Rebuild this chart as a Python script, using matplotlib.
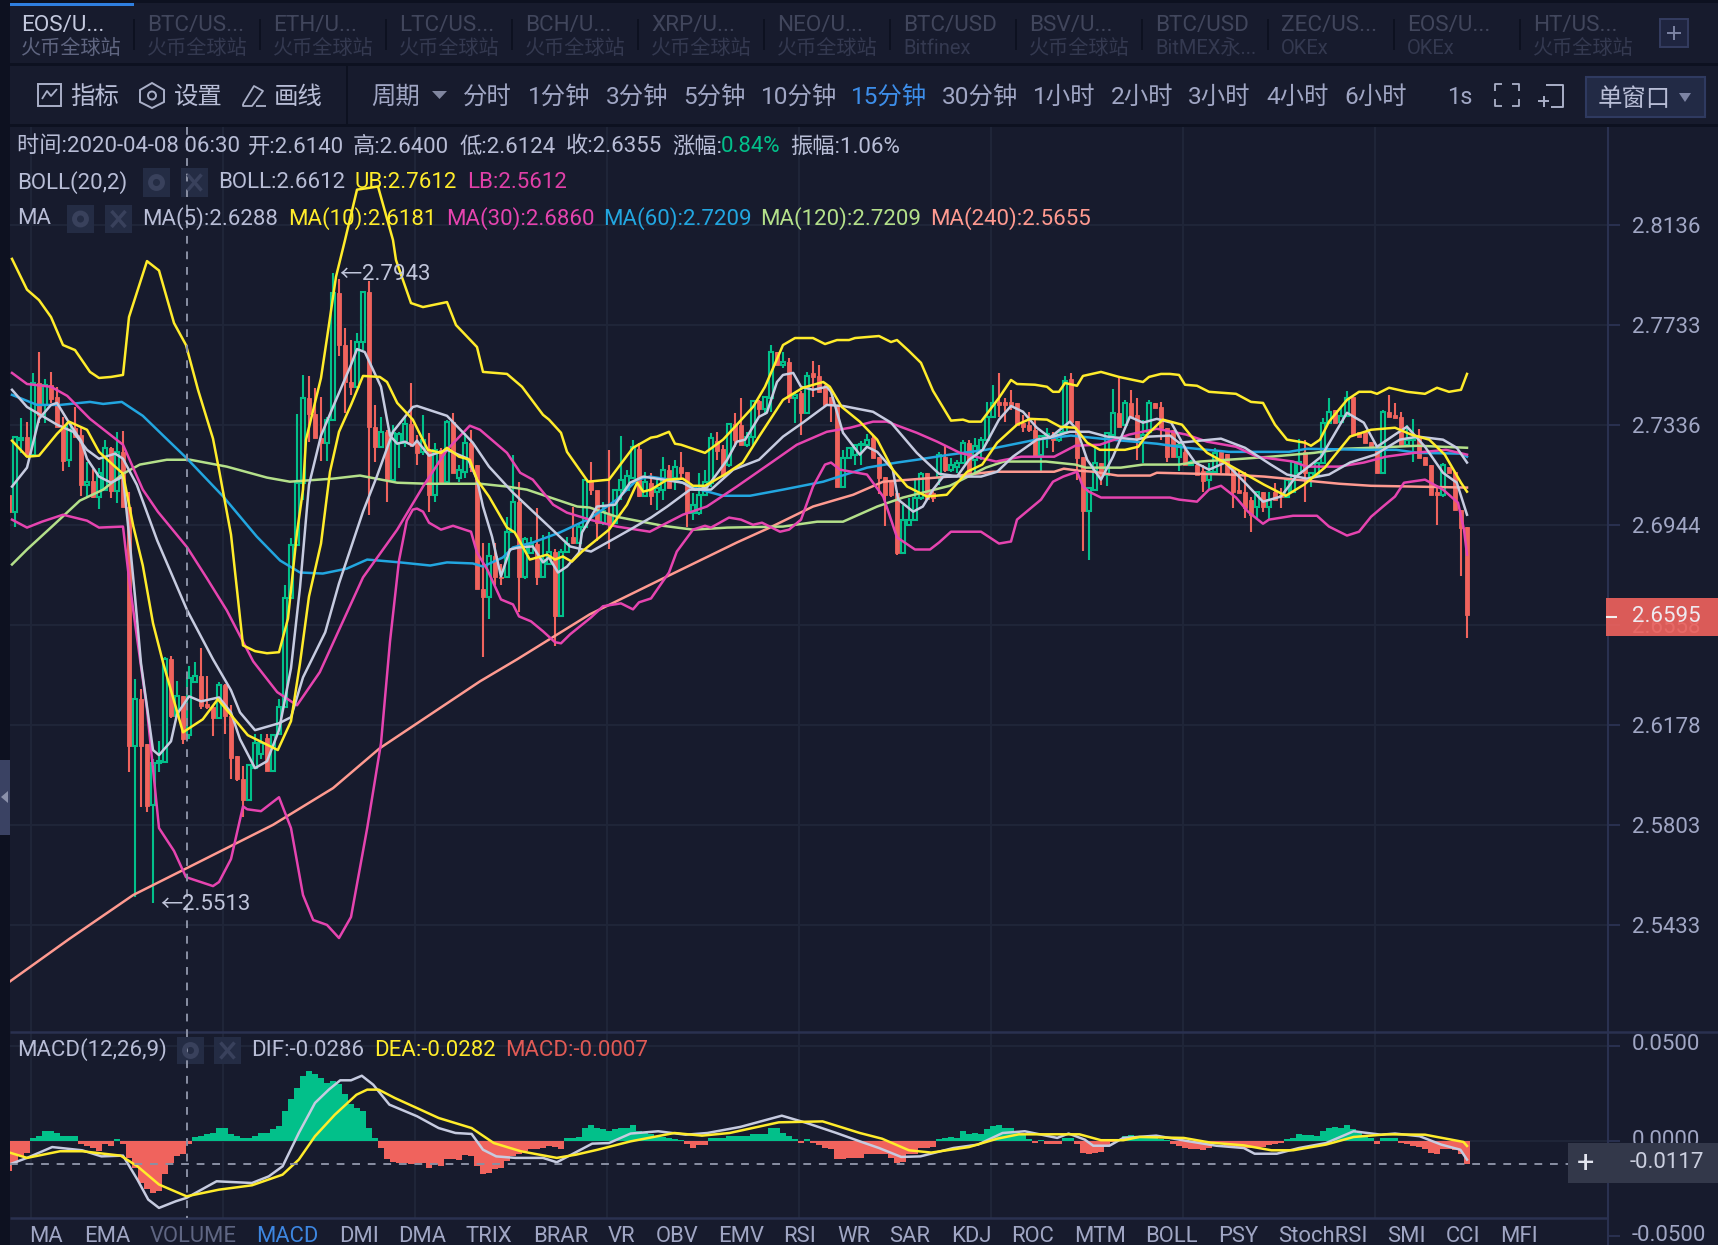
import matplotlib
matplotlib.use("Agg")
import matplotlib.pyplot as plt
from matplotlib.patches import Rectangle, Polygon, Circle
from matplotlib.transforms import ScaledTranslation
import numpy as np

plt.rcParams['font.family'] = ['Roboto', 'Noto Sans CJK SC', 'DejaVu Sans']

# ---------- candles (price) ----------
opens = [2.7062,2.6996,2.7278,2.7290,2.7219,2.7502,2.7415,2.7495,2.7447,2.7337,
2.7199,2.7325,2.7298,2.7101,2.7117,2.7055,2.7082,2.7246,2.7078,2.7230,
2.7016,2.6097,2.6275,2.6105,2.5876,2.6034,2.6038,2.6427,2.6210,2.6286,
2.6140,2.6340,2.6362,2.6256,2.6245,2.6203,2.6328,2.6210,2.6060,2.5974,
2.5895,2.6015,2.6068,2.6128,2.6004,2.6143,2.6245,2.6660,2.6865,2.7109,
2.7443,2.7380,2.7286,2.7266,2.7357,2.7861,2.7653,2.7506,2.7487,2.7665,
2.7865,2.7329,2.7250,2.7309,2.7121,2.7266,2.7266,2.7341,2.7266,2.7230,
2.7238,2.7062,2.7238,2.7113,2.7349,2.7129,2.7152,2.7266,2.7180,2.6695,
2.6664,2.6822,2.6741,2.6741,2.6918,2.7035,2.6741,2.6837,2.6869,2.6741,
2.6791,2.6841,2.6591,2.6841,2.6896,2.6876,2.6938,2.7121,2.7082,2.6953,
2.6984,2.6953,2.7082,2.7082,2.7129,2.7242,2.7058,2.7109,2.7074,2.7082,
2.7160,2.7129,2.7172,2.7152,2.6992,2.6992,2.7062,2.7109,2.7274,2.7242,
2.7180,2.7341,2.7337,2.7258,2.7290,2.7431,2.7400,2.7443,2.7625,2.7574,
2.7586,2.7443,2.7463,2.7384,2.7542,2.7530,2.7487,2.7447,2.7415,2.7094,
2.7207,2.7219,2.7258,2.7258,2.7286,2.7211,2.7133,2.7113,2.7070,2.6837,
2.6945,2.6965,2.7051,2.7148,2.7070,2.7133,2.7211,2.7160,2.7172,2.7188,
2.7266,2.7199,2.7238,2.7278,2.7368,2.7427,2.7427,2.7427,2.7423,2.7345,
2.7337,2.7317,2.7219,2.7286,2.7294,2.7278,2.7309,2.7518,2.7353,2.7211,
2.7000,2.7082,2.7188,2.7141,2.7298,2.7384,2.7337,2.7423,2.7376,2.7286,
2.7309,2.7423,2.7407,2.7325,2.7317,2.7211,2.7230,2.7180,2.7180,2.7156,
2.7121,2.7152,2.7230,2.7223,2.7168,2.7082,2.7074,2.7043,2.7016,2.7074,
2.7016,2.7074,2.7062,2.7055,2.7074,2.7148,2.7230,2.7133,2.7141,2.7188,
2.7345,2.7396,2.7349,2.7372,2.7447,2.7309,2.7309,2.7270,2.7250,2.7148,
2.7388,2.7376,2.7368,2.7258,2.7278,2.7286,2.7211,2.7180,2.7074,2.7062,
2.7172,2.7152,2.7004,2.6938]
closes = [2.6996,2.7290,2.7286,2.7215,2.7502,2.7376,2.7495,2.7439,2.7329,2.7195,
2.7345,2.7290,2.7101,2.7113,2.7055,2.7148,2.7246,2.7078,2.7230,2.7016,
2.6097,2.6275,2.6097,2.5872,2.6034,2.6041,2.6427,2.6210,2.6286,2.6124,
2.6355,2.6362,2.6248,2.6245,2.6203,2.6328,2.6210,2.6052,2.5974,2.5895,
2.6026,2.6109,2.6109,2.6004,2.6139,2.6245,2.6660,2.6865,2.7109,2.7443,
2.7380,2.7286,2.7266,2.7357,2.7861,2.7653,2.7506,2.7487,2.7665,2.7865,
2.7329,2.7250,2.7309,2.7121,2.7305,2.7302,2.7341,2.7266,2.7226,2.7278,
2.7062,2.7238,2.7109,2.7349,2.7148,2.7160,2.7266,2.7172,2.6695,2.6664,
2.6822,2.6741,2.6737,2.6918,2.7035,2.6741,2.6888,2.6869,2.6741,2.6810,
2.6841,2.6591,2.6841,2.6869,2.6876,2.6938,2.7121,2.7082,2.6953,2.7000,
2.6953,2.7082,2.7121,2.7137,2.7250,2.7058,2.7113,2.7058,2.7090,2.7160,
2.7090,2.7172,2.7148,2.6992,2.7023,2.7062,2.7113,2.7286,2.7234,2.7141,
2.7341,2.7278,2.7258,2.7290,2.7431,2.7400,2.7447,2.7625,2.7574,2.7586,
2.7443,2.7455,2.7384,2.7530,2.7526,2.7467,2.7415,2.7415,2.7094,2.7207,
2.7246,2.7258,2.7262,2.7278,2.7207,2.7129,2.7062,2.7062,2.6837,2.6965,
2.6965,2.7051,2.7144,2.7047,2.7051,2.7219,2.7160,2.7180,2.7188,2.7266,
2.7148,2.7254,2.7278,2.7368,2.7423,2.7415,2.7415,2.7415,2.7337,2.7329,
2.7317,2.7215,2.7294,2.7302,2.7278,2.7309,2.7510,2.7349,2.7207,2.7000,
2.7090,2.7188,2.7141,2.7305,2.7384,2.7329,2.7423,2.7368,2.7286,2.7298,
2.7423,2.7403,2.7325,2.7211,2.7211,2.7258,2.7180,2.7192,2.7141,2.7117,
2.7152,2.7226,2.7188,2.7148,2.7074,2.7070,2.7012,2.6984,2.7074,2.7016,
2.7043,2.7043,2.7055,2.7121,2.7192,2.7192,2.7148,2.7148,2.7188,2.7345,
2.7388,2.7345,2.7372,2.7443,2.7298,2.7290,2.7266,2.7250,2.7148,2.7388,
2.7368,2.7364,2.7258,2.7278,2.7286,2.7207,2.7180,2.7062,2.7062,2.7180,
2.7148,2.7004,2.6934,2.6595]
highs = [2.7082,2.7290,2.7364,2.7349,2.7542,2.7625,2.7518,2.7546,2.7487,2.7368,
2.7345,2.7407,2.7325,2.7192,2.7164,2.7168,2.7278,2.7250,2.7309,2.7313,
2.7074,2.6351,2.6313,2.6105,2.6049,2.6116,2.6435,2.6438,2.6343,2.6286,
2.6400,2.6416,2.6469,2.6362,2.6252,2.6340,2.6332,2.6252,2.6060,2.6022,
2.6030,2.6143,2.6143,2.6143,2.6143,2.6275,2.6710,2.6892,2.7380,2.7534,
2.7530,2.7483,2.7447,2.7368,2.7943,2.7919,2.7721,2.7673,2.7701,2.7871,
2.7911,2.7415,2.7368,2.7317,2.7337,2.7309,2.7368,2.7502,2.7298,2.7376,
2.7305,2.7266,2.7246,2.7357,2.7384,2.7180,2.7305,2.7317,2.7180,2.6876,
2.6876,2.6876,2.6791,2.6976,2.7219,2.7113,2.6896,2.6899,2.7012,2.6907,
2.6918,2.6849,2.6849,2.6899,2.7016,2.6953,2.7121,2.7192,2.7078,2.7035,
2.7238,2.7082,2.7294,2.7160,2.7278,2.7266,2.7152,2.7148,2.7121,2.7211,
2.7180,2.7199,2.7230,2.7152,2.7070,2.7148,2.7160,2.7305,2.7309,2.7258,
2.7345,2.7384,2.7443,2.7309,2.7435,2.7435,2.7447,2.7653,2.7625,2.7625,
2.7602,2.7467,2.7471,2.7546,2.7590,2.7574,2.7495,2.7447,2.7415,2.7238,
2.7250,2.7258,2.7274,2.7302,2.7294,2.7211,2.7133,2.7113,2.7070,2.7023,
2.7051,2.7121,2.7152,2.7148,2.7082,2.7230,2.7258,2.7207,2.7199,2.7278,
2.7278,2.7286,2.7290,2.7427,2.7495,2.7542,2.7443,2.7475,2.7423,2.7376,
2.7388,2.7357,2.7298,2.7325,2.7309,2.7317,2.7530,2.7542,2.7353,2.7211,
2.7090,2.7258,2.7188,2.7305,2.7479,2.7530,2.7435,2.7475,2.7443,2.7357,
2.7435,2.7423,2.7427,2.7325,2.7317,2.7266,2.7250,2.7199,2.7192,2.7180,
2.7188,2.7246,2.7230,2.7223,2.7168,2.7160,2.7152,2.7055,2.7074,2.7074,
2.7074,2.7109,2.7090,2.7121,2.7192,2.7282,2.7278,2.7152,2.7188,2.7364,
2.7443,2.7396,2.7407,2.7471,2.7447,2.7309,2.7309,2.7270,2.7250,2.7396,
2.7455,2.7423,2.7388,2.7337,2.7360,2.7321,2.7211,2.7180,2.7094,2.7188,
2.7172,2.7152,2.7004,2.6938]
lows = [2.6984,2.6938,2.7226,2.7211,2.7219,2.7345,2.7345,2.7423,2.7329,2.7156,
2.7172,2.7290,2.7058,2.7055,2.7051,2.7008,2.7078,2.7051,2.7031,2.7016,
2.6000,2.5535,2.5869,2.5850,2.5513,2.6000,2.6038,2.6203,2.6210,2.6105,
2.6124,2.6340,2.6237,2.6237,2.6135,2.6203,2.6143,2.5974,2.5966,2.5831,
2.5895,2.6015,2.6049,2.6004,2.6004,2.6143,2.6245,2.6660,2.6865,2.7043,
2.7270,2.7286,2.7195,2.7195,2.7357,2.7610,2.7384,2.7455,2.7487,2.7633,
2.6984,2.7192,2.7246,2.7035,2.7121,2.7168,2.7250,2.7250,2.7180,2.7219,
2.6996,2.7035,2.7109,2.7113,2.7148,2.7113,2.7129,2.7152,2.6695,2.6435,
2.6580,2.6710,2.6710,2.6741,2.6918,2.6606,2.6733,2.6837,2.6710,2.6741,
2.6791,2.6476,2.6591,2.6837,2.6869,2.6876,2.6934,2.7062,2.6880,2.6945,
2.6849,2.6953,2.7043,2.7082,2.7129,2.7055,2.7055,2.7023,2.7004,2.7043,
2.7090,2.7082,2.7129,2.6938,2.6965,2.6984,2.7062,2.7094,2.7199,2.7133,
2.7172,2.7250,2.7258,2.7250,2.7258,2.7368,2.7376,2.7388,2.7574,2.7562,
2.7423,2.7345,2.7298,2.7384,2.7447,2.7463,2.7415,2.7349,2.7094,2.7094,
2.7207,2.7180,2.7180,2.7258,2.7207,2.7066,2.6941,2.7055,2.6826,2.6837,
2.6945,2.6965,2.7043,2.7043,2.7035,2.7101,2.7152,2.7152,2.7148,2.7188,
2.7141,2.7148,2.7199,2.7266,2.7368,2.7368,2.7349,2.7396,2.7337,2.7309,
2.7309,2.7211,2.7148,2.7246,2.7230,2.7270,2.7309,2.7349,2.7121,2.6845,
2.6810,2.7082,2.7101,2.7097,2.7298,2.7329,2.7337,2.7368,2.7199,2.7188,
2.7309,2.7403,2.7278,2.7192,2.7211,2.7156,2.7180,2.7180,2.7141,2.7074,
2.7082,2.7152,2.7148,2.7148,2.7012,2.7070,2.6973,2.6915,2.6973,2.6996,
2.6965,2.7043,2.7012,2.7055,2.7074,2.7148,2.7035,2.7094,2.7141,2.7188,
2.7345,2.7345,2.7349,2.7372,2.7298,2.7290,2.7266,2.7250,2.7148,2.7148,
2.7368,2.7364,2.7258,2.7258,2.7192,2.7207,2.7180,2.7062,2.6945,2.7055,
2.7148,2.7004,2.6745,2.6507]

# ---------- overlay lines: bar position / price ----------
ub_i = [0.5,3,5,7,9,11,13.5,15,17,19,20,23,25,27.5,29.5,31.5,34,35,37,39,41,43,45,46.5,48,49,49.5,52,53,54.5,56,58,61.5,64,64.5,67,69,73,74.5,78,79,83,85.5,89,90,92,93,96.5,100,104,107,108,110,111,112,116,119,121,124,126,129,131,134,136,138,140,141,145,147,148,150,152,154,157,159,160,162,165,167,168,171,173,174,175,176,178,179,182,185,189,190,192,193.5,195,196,198,200,204.5,207,209,211,213,216,217,218.5,220,223,225,227,228,230,233,236,238,240,242,243]
ub_p = [2.7999,2.7875,2.7833,2.7765,2.7653,2.7633,2.7546,2.7522,2.7526,2.7534,2.7765,2.7990,2.7952,2.7741,2.7653,2.7475,2.7282,2.7160,2.6907,2.6480,2.6458,2.6450,2.6454,2.6583,2.6915,2.7082,2.7278,2.7522,2.7681,2.7927,2.8075,2.8280,2.8293,2.8075,2.7994,2.7821,2.7805,2.7825,2.7733,2.7645,2.7546,2.7538,2.7487,2.7376,2.7357,2.7305,2.7230,2.7113,2.7121,2.7246,2.7286,2.7290,2.7309,2.7262,2.7258,2.7226,2.7278,2.7329,2.7407,2.7487,2.7653,2.7681,2.7681,2.7657,2.7673,2.7673,2.7681,2.7689,2.7665,2.7673,2.7629,2.7582,2.7471,2.7353,2.7357,2.7349,2.7349,2.7443,2.7514,2.7498,2.7495,2.7487,2.7467,2.7467,2.7502,2.7491,2.7530,2.7546,2.7526,2.7506,2.7526,2.7538,2.7538,2.7534,2.7495,2.7491,2.7467,2.7459,2.7427,2.7423,2.7337,2.7278,2.7266,2.7254,2.7278,2.7349,2.7435,2.7467,2.7467,2.7459,2.7483,2.7467,2.7459,2.7483,2.7467,2.7475,2.7538]
lb_i = [0.5,3,5.5,9,13,15,19,20,21,23,25,27.5,29.5,34,35,37,39,39.7,42,45,47,49,50.7,53,55,57,59.7,62,63.5,65,66.3,67.3,68,69,70,72,74,77,78,79.7,82,84,85,87,89,91,92,93.5,97,99,102,104,105,107,110,111.3,114,116,117,120,122,124,125.5,128.5,130,132,134,136,137,138.5,143,145.7,148,151,153.5,155,157,162,165,167,168,172,174,175.7,178,179,180,182,193.5,195,198,200,202,204.5,206.5,209,210,214,218,220,223,225,227,229,231,232.5,236,239,241.5,242.5,243]
lb_p = [2.6965,2.6934,2.6957,2.6984,2.6961,2.6934,2.6938,2.6737,2.6565,2.6237,2.5791,2.5706,2.5609,2.5576,2.5591,2.5676,2.5872,2.5861,2.5854,2.5906,2.5791,2.5543,2.5451,2.5433,2.5385,2.5462,2.5791,2.6109,2.6495,2.6806,2.6961,2.7004,2.7008,2.6996,2.6953,2.6926,2.6941,2.6918,2.6837,2.6772,2.6656,2.6637,2.6591,2.6572,2.6534,2.6492,2.6488,2.6522,2.6587,2.6630,2.6641,2.6618,2.6645,2.6660,2.6760,2.6841,2.6926,2.6941,2.6934,2.6973,2.6965,2.6945,2.6953,2.6918,2.6926,2.6965,2.7094,2.7180,2.7188,2.7160,2.7141,2.7055,2.6896,2.6849,2.6849,2.6876,2.6918,2.6918,2.6872,2.6880,2.6965,2.7043,2.7113,2.7133,2.7152,2.7094,2.7074,2.7051,2.7051,2.7043,2.7035,2.7082,2.7097,2.7051,2.6996,2.6949,2.6965,2.6980,2.6980,2.6938,2.6903,2.6918,2.6976,2.7016,2.7055,2.7109,2.7121,2.7082,2.7031,2.6926,2.6829]
mid_i = [0.5,3,5.5,8,10.7,13,15,17.7,19,21.3,24.7,29.7,34,37,38.5,41,45,47,49,52.7,55,59,61.3,64,67.3,68,73,77.3,80,84,90,93.5,97,100,103.5,107,109.7,113.5,117,120.7,125,129,132.3,136.3,139,144,147,151.3,155,158.5,162,164.7,167.3,171.3,174,176.8,180,183,188,190,193.5,195,202,206,210.3,213,216.3,220,223.5,227.7,231.8,234.8,239,241.3,243]
mid_p = [2.7475,2.7407,2.7372,2.7337,2.7309,2.7238,2.7203,2.7223,2.7203,2.7101,2.6884,2.6614,2.6427,2.6309,2.6225,2.6158,2.6184,2.6207,2.6358,2.6530,2.6718,2.6996,2.7133,2.7309,2.7407,2.7411,2.7372,2.7266,2.7172,2.7070,2.6938,2.6861,2.6841,2.6880,2.6926,2.6973,2.7016,2.7082,2.7082,2.7160,2.7199,2.7290,2.7345,2.7415,2.7411,2.7388,2.7345,2.7226,2.7144,2.7133,2.7133,2.7152,2.7211,2.7278,2.7290,2.7309,2.7309,2.7290,2.7278,2.7290,2.7294,2.7266,2.7282,2.7246,2.7180,2.7141,2.7125,2.7141,2.7188,2.7219,2.7278,2.7290,2.7278,2.7246,2.7188]
ma5_i = [0.5,3,5,7,8,10,12,13,15,17,19,20,21,22,24,25,27,28,30,32,35,37,38.5,41,43,45,47,48.5,50,52,54,57,58,59.3,62,63.5,64.7,66,67.3,68,70,73,76.5,78,79,80.5,82,83.5,85,87.3,89,90,91.5,93,95,95.5,98,101,103.5,105.7,109,112.3,114.3,116.3,119.7,121.3,122.7,125,126.3,128,129,130.7,132,134,136.3,137,139,141.8,143,144.7,147.3,148.2,150.7,152.3,154,155.7,158,160,162.3,165,167,169,171.3,173.5,176.8,178,179.7,182,184,186.8,189,191.3,193.7,196.2,197.7,200,202.7,206,209,212,214.5,218.7,223,225.8,228,231,233,236,239,241.3,243]
ma5_p = [2.7094,2.7168,2.7360,2.7415,2.7423,2.7345,2.7274,2.7203,2.7133,2.7109,2.7133,2.6907,2.6668,2.6412,2.6083,2.6064,2.6116,2.6218,2.6286,2.6267,2.6282,2.6225,2.6124,2.6015,2.6041,2.6158,2.6393,2.6702,2.7101,2.7294,2.7407,2.7574,2.7637,2.7625,2.7487,2.7294,2.7262,2.7270,2.7254,2.7274,2.7215,2.7238,2.7203,2.7121,2.7016,2.6899,2.6745,2.6849,2.6857,2.6861,2.6799,2.6818,2.6760,2.6783,2.6837,2.6915,2.7016,2.7023,2.7109,2.7133,2.7121,2.7109,2.7082,2.7090,2.7199,2.7270,2.7278,2.7368,2.7384,2.7506,2.7534,2.7542,2.7487,2.7475,2.7487,2.7467,2.7305,2.7219,2.7250,2.7230,2.7160,2.7043,2.6996,2.7016,2.7082,2.7133,2.7133,2.7199,2.7238,2.7357,2.7411,2.7388,2.7325,2.7286,2.7349,2.7317,2.7199,2.7121,2.7211,2.7368,2.7345,2.7360,2.7345,2.7238,2.7188,2.7160,2.7188,2.7109,2.7035,2.7055,2.7133,2.7211,2.7384,2.7345,2.7250,2.7298,2.7329,2.7250,2.7148,2.7109,2.6984]
ma10_i = [0.5,3,5,8,10,13,15,17.3,19,20.7,22.3,24,25.7,29,32.3,34.8,37.3,39.8,44.8,47,48.5,50,52,53.5,55,57,59,61.8,63,64.7,67.3,69.8,72,73,75,76.8,78,80,83,84.3,86.8,89.7,91,92.3,93.8,95.5,100,103,104.7,105.7,107,109.7,112.3,114,116,119.3,122.3,125,129,132.3,135.7,136.8,138.8,141.8,144.7,147.3,149.7,153,156.3,159.7,162.2,164.7,168,170.2,173,175.2,177.7,179.7,181.8,186,188.2,189.7,192.3,195.5,197.8,199.7,206.2,209.2,212.8,215.8,219.3,223.5,227,231,233.7,236.7,239.3,242,243]
ma10_p = [2.7274,2.7211,2.7215,2.7301,2.7349,2.7317,2.7230,2.7180,2.7144,2.6941,2.6787,2.6565,2.6412,2.6150,2.6199,2.6275,2.6207,2.6139,2.6083,2.6192,2.6412,2.6668,2.6872,2.7152,2.7309,2.7415,2.7530,2.7526,2.7506,2.7423,2.7357,2.7238,2.7226,2.7246,2.7211,2.7199,2.7121,2.7055,2.6934,2.6915,2.6810,2.6829,2.6810,2.6822,2.6802,2.6841,2.6926,2.7023,2.7109,2.7074,2.7082,2.7121,2.7125,2.7097,2.7097,2.7141,2.7188,2.7290,2.7435,2.7483,2.7506,2.7487,2.7407,2.7349,2.7278,2.7160,2.7094,2.7055,2.7062,2.7152,2.7180,2.7266,2.7337,2.7360,2.7357,2.7329,2.7325,2.7266,2.7238,2.7238,2.7250,2.7298,2.7357,2.7337,2.7270,2.7226,2.7141,2.7101,2.7058,2.7101,2.7168,2.7290,2.7317,2.7325,2.7298,2.7278,2.7219,2.7109,2.7074]
ma30_i = [0.5,3,7,9.7,13.5,19,22.3,24.8,29.7,33,36.3,40.7,44.7,48,51.8,55.2,59,64.7,69,73,76.8,78.5,83,85.2,87.3,90.7,93,96.8,101.3,106.8,109.7,112.3,116.3,121.3,127.3,131.3,136.3,140.2,144,146.3,151.3,154.7,158.5,161.8,164.5,168.7,174.2,177.7,181.8,186.7,191.3,196.2,199.7,204.5,208,214,216.3,221.7,225.8,229.5,234.2,239.5,243]
ma30_p = [2.7542,2.7498,2.7487,2.7451,2.7360,2.7258,2.7082,2.6996,2.6857,2.6737,2.6614,2.6419,2.6302,2.6252,2.6378,2.6549,2.6741,2.6926,2.7094,2.7238,2.7333,2.7317,2.7226,2.7148,2.7121,2.7023,2.6992,2.6965,2.6938,2.6918,2.6953,2.6984,2.7016,2.7094,2.7192,2.7258,2.7309,2.7325,2.7349,2.7349,2.7305,2.7270,2.7226,2.7207,2.7192,2.7211,2.7211,2.7254,2.7258,2.7298,2.7321,2.7298,2.7270,2.7250,2.7211,2.7192,2.7172,2.7172,2.7188,2.7211,2.7226,2.7238,2.7219]
ma60_i = [0.5,4.7,8.5,13.5,15.7,18.8,22.3,25.7,29.7,35.7,41.3,45.2,48.5,52.3,56.3,59.7,65.2,70.2,73,77.3,79,82.3,84,87.3,91.8,96.8,101.3,104.7,106.8,111.3,115.2,119,123.5,129,135.7,143,148,151.3,156.8,162.8,167,171.2,177,183.7,191.3,196.2,203.3,213.3,216.3,226.5,231.2,234.8,242,243]
ma60_p = [2.7455,2.7415,2.7415,2.7427,2.7419,2.7427,2.7372,2.7294,2.7203,2.7055,2.6899,2.6806,2.6760,2.6756,2.6775,2.6810,2.6799,2.6787,2.6799,2.6795,2.6783,2.6818,2.6857,2.6876,2.6915,2.6969,2.7043,2.7121,2.7133,2.7117,2.7082,2.7058,2.7058,2.7082,2.7113,2.7168,2.7188,2.7199,2.7219,2.7238,2.7258,2.7278,2.7294,2.7278,2.7262,2.7246,2.7230,2.7230,2.7242,2.7238,2.7238,2.7226,2.7223,2.7211]
ma120_i = [0.5,3,7.3,11.8,15.7,19,21.8,26.3,30.2,36.3,43,46.8,54,58.5,64.7,69.7,78.5,83,86.3,94.7,96.8,101.3,109,114,119.7,129,134.7,139,144.7,149,156.8,162.8,165.8,172.8,177.7,179.5,185.3,189,195,198.5,205.7,210.3,217.5,222.3,227,234.8,243]
ma120_p = [2.6791,2.6849,2.6941,2.7039,2.7082,2.7144,2.7180,2.7199,2.7199,2.7172,2.7129,2.7113,2.7125,2.7137,2.7109,2.7105,2.7105,2.7094,2.7082,2.7016,2.7012,2.6976,2.6941,2.6926,2.6934,2.6938,2.6957,2.6957,2.7016,2.7051,2.7097,2.7168,2.7192,2.7192,2.7180,2.7168,2.7168,2.7180,2.7180,2.7192,2.7203,2.7211,2.7226,2.7242,2.7246,2.7254,2.7246]
ma240_i = [0,10,20.7,29.7,44,54,61.8,78.5,84.7,96.8,109.7,121.3,126.8,134,140.7,145.7,156.8,164,174.2,175.8,178.3,180.7,184.8,190.2,191.3,203.3,209.2,221.7,227,243]
ma240_p = [2.5224,2.5381,2.5543,2.5643,2.5803,2.5940,2.6090,2.6343,2.6427,2.6599,2.6745,2.6876,2.6934,2.7016,2.7062,2.7113,2.7133,2.7152,2.7152,2.7164,2.7156,2.7152,2.7137,2.7137,2.7148,2.7141,2.7133,2.7105,2.7097,2.7090]

# ---------- MACD ----------
macd_hist = [-.0158,-.0116,-.0081,-.0063,.0018,.0026,.0053,.0053,.0044,.0025,
.0025,.0025,-.0014,-.0026,-.0035,-.0053,-.0018,-.0026,.0009,-.0014,
-.0088,-.0140,-.0219,-.0254,-.0271,-.0263,-.0175,-.0114,-.0079,-.0070,
-.0018,.0021,.0026,.0035,.0044,.0070,.0070,.0035,.0025,.0014,
.0018,.0026,.0044,.0044,.0061,.0079,.0158,.0219,.0280,.0341,
.0368,.0350,.0333,.0306,.0315,.0298,.0245,.0193,.0175,.0158,
.0070,.0018,-.0035,-.0096,-.0109,-.0114,-.0114,-.0123,-.0119,-.0114,
-.0140,-.0123,-.0131,-.0096,-.0096,-.0102,-.0074,-.0079,-.0131,-.0175,
-.0166,-.0149,-.0140,-.0105,-.0079,-.0070,-.0053,-.0044,-.0044,-.0035,
-.0026,-.0032,-.0044,.0014,.0018,.0021,.0070,.0084,.0067,.0061,
.0053,.0061,.0067,.0070,.0084,.0053,.0044,.0035,.0026,.0021,
.0018,.0009,.0004,-.0018,-.0035,-.0021,-.0021,.0018,.0018,.0018,
.0026,.0026,.0025,.0026,.0035,.0039,.0035,.0067,.0067,.0044,
.0026,.0009,-.0009,.0009,-.0009,-.0021,-.0035,-.0044,-.0096,-.0096,
-.0088,-.0088,-.0088,-.0070,-.0070,-.0070,-.0067,-.0088,-.0114,-.0109,
-.0070,-.0067,-.0039,-.0035,-.0032,.0009,.0018,.0021,.0014,.0053,
.0035,.0044,.0035,.0061,.0079,.0084,.0070,.0070,.0053,.0035,
.0009,-.0009,.0005,-.0014,-.0018,-.0018,.0014,.0014,-.0018,-.0061,
-.0067,-.0061,-.0056,-.0026,-.0005,.0005,.0026,.0032,.0018,.0018,
.0014,.0014,.0011,.0005,-.0014,-.0026,-.0039,-.0044,-.0044,-.0049,
-.0039,-.0018,-.0018,-.0026,-.0026,-.0032,-.0039,-.0035,-.0039,-.0032,
-.0021,-.0014,-.0009,.0009,.0018,.0035,.0032,.0032,.0026,.0053,
.0070,.0074,.0070,.0084,.0061,.0044,.0026,.0014,-.0018,.0014,
.0018,.0018,-.0009,-.0014,-.0026,-.0032,-.0044,-.0061,-.0067,-.0044,
-.0044,-.0049,-.0067,-.0123]
dif_i = [0,3,7.2,12.2,15.4,19,21.4,23.2,25,27.8,29.6,34.6,40.5,43.3,45.6,48.3,51,53.3,55.2,57,58.8,60.7,63.4,68,71.6,74.4,77.1,79,81.2,84.4,89,91.3,97.2,100,103.6,108.2,112.8,116.4,121.9,128.8,132.9,137.9,141.8,145,148.7,151.9,157.4,161.5,165.6,169.3,174.7,176.6,179.3,180.7,183.4,185.7,191.2,196.7,201.2,205.8,207.6,211.3,215,219.5,224.1,228.7,231,235.1,238.7,241.9,243]
dif_v = [-.0124,-.0089,-.0032,-.0049,-.0081,-.0077,-.0203,-.0308,-.0352,-.0317,-.0299,-.0212,-.0221,-.0186,-.0133,.0042,.0200,.0270,.0319,.0319,.0343,.0296,.0191,.0130,.0068,.0042,.0037,-.0046,-.0081,-.0089,-.0089,-.0112,-.0014,-.0011,.0039,.0051,.0033,.0042,.0074,.0133,.0095,.0042,-.0002,-.0037,-.0084,-.0081,-.0037,-.0019,.0042,.0051,.0016,.0039,.0007,-.0025,-.0025,.0016,.0028,-.0002,-.0025,-.0037,-.0067,-.0067,-.0037,-.0011,.0051,.0033,.0039,.0025,-.0019,-.0046,-.0098]
dea_i = [0,3,8.5,12.2,18.6,21.4,25,29.6,35,40.5,45.6,48.3,51,54.3,57.9,59.7,61.6,64.3,68,71.6,77.1,80.8,85.3,91.3,94.5,98.1,103.6,110.9,115.5,120.1,128.3,135.6,141.8,145.5,150,153.7,160,164.7,168.3,178.4,182,185.7,188.4,195.8,200.3,205.8,210.4,214,219.5,224.1,229.6,236,242.4,243]
dea_v = [-.0060,-.0089,-.0054,-.0054,-.0077,-.0133,-.0229,-.0291,-.0256,-.0233,-.0177,-.0098,.0025,.0138,.0243,.0270,.0270,.0226,.0173,.0121,.0068,-.0011,-.0054,-.0089,-.0072,-.0046,-.0002,.0042,.0028,.0042,.0098,.0103,.0042,.0012,-.0049,-.0061,-.0032,.0012,.0035,.0035,.0004,.0004,.0021,.0016,-.0009,-.0023,-.0049,-.0049,-.0019,.0021,.0035,.0033,-.0005,-.0026]

price_ticks = [2.8136,2.7733,2.7336,2.6944,2.6558,2.6178,2.5803,2.5433]
macd_ticks = [0.05,0.0,-0.05]

tab_titles = ["EOS/U...","BTC/US...","ETH/U...","LTC/US...","BCH/U...","XRP/U...","NEO/U...","BTC/USD","BSV/U...","BTC/USD","ZEC/US...","EOS/U...","HT/US..."]
tab_subs = ["火币全球站"]*7 + ["Bitfinex","火币全球站","BitMEX永...","OKEx","OKEx","火币全球站"]
periods = [("分时",463),("1分钟",528),("3分钟",606),("5分钟",683),("10分钟",761),("15分钟",851),("30分钟",942),("1小时",1033),("2小时",1111),("3小时",1188),("4小时",1266),("6小时",1344),("1s",1447)]
indicators = [("MA",29),("EMA",84),("VOLUME",150),("MACD",256),("DMI",339),("DMA",398),("TRIX",466),("BRAR",533),("VR",608),("OBV",656),("EMV",718),("RSI",783),("WR",837),("SAR",889),("KDJ",951),("ROC",1011),("MTM",1074),("BOLL",1145),("PSY",1218),("StochRSI",1278),("SMI",1387),("CCI",1446),("MFI",1500)]

# ---------- style ----------
W, H = 1718, 1245
BG = '#171b2d'
DARK = '#0d1120'
GRID = '#1f2538'
BORDER = '#2a3150'
UP = '#02c08a'
DOWN = '#f0635d'
YEL = '#ffec2b'
MAG = '#e644b0'
BLU = '#22a6e0'
LGR = '#b4e08a'
SAL = '#ff9a90'
WHT = '#c6cbe0'
TXT = '#b8bdd6'
AXT = '#a0a6c4'
LW = 1.8

fig = plt.figure(figsize=(W/100, H/100), dpi=100, facecolor=BG)

def pane(x0, y0, x1, y1):
    a = fig.add_axes([x0/W, 1-y1/H, (x1-x0)/W, (y1-y0)/H], facecolor=BG)
    for s in a.spines.values():
        s.set_visible(False)
    a.set_xlim((x0-9)/6, (x1-9)/6)
    a.set_xticks([(31-9)/6 + 32*k for k in range(8)])
    a.tick_params(axis='x', length=0, labelbottom=False)
    a.yaxis.tick_right()
    a.tick_params(axis='y', length=8, width=1.4, color=BORDER, pad=8.5, labelsize=16, labelcolor=AXT)
    a.grid(True, color=GRID, lw=1.5)
    a.set_axisbelow(True)
    return a

# ---------- main pane ----------
ax = pane(10, 127, 1609, 1032)
n = len(closes)
idx = np.arange(n)
o, c, h, l = map(np.array, (opens, closes, highs, lows))
up = c >= o
ax.vlines(idx[up], l[up], h[up], color=UP, lw=1.5, zorder=2)
ax.vlines(idx[~up], l[~up], h[~up], color=DOWN, lw=1.5, zorder=2)
ax.bar(idx[up], (c-o)[up], bottom=o[up], width=0.68, facecolor=BG, edgecolor=UP, linewidth=1.5, zorder=3)
ax.bar(idx[~up], (o-c)[~up], bottom=c[~up], width=0.8, facecolor=DOWN, edgecolor=DOWN, linewidth=0.6, zorder=3)
for xs, ys, col in [(ma240_i, ma240_p, SAL), (ma120_i, ma120_p, LGR), (ma60_i, ma60_p, BLU),
                    (ma30_i, ma30_p, MAG), (lb_i, lb_p, MAG), (ub_i, ub_p, YEL),
                    (mid_i, mid_p, WHT), (ma5_i, ma5_p, WHT), (ma10_i, ma10_p, YEL)]:
    ax.plot(xs, ys, color=col, lw=LW, zorder=4, solid_joinstyle='round')
ax.set_yscale('log')
ax.set_ylim(2.5043, 2.8537)
ax.set_yticks(price_ticks, [f"{v:.4f}" for v in price_ticks])
ax.yaxis.set_minor_locator(matplotlib.ticker.NullLocator())

# ---------- MACD pane ----------
ax2 = pane(10, 1032, 1609, 1245)
hv = np.array(macd_hist)
ax2.bar(idx, hv, width=0.84, color=[UP if v >= 0 else DOWN for v in hv], zorder=2)
ax2.plot(dif_i, dif_v, color=WHT, lw=LW, zorder=3)
ax2.plot(dea_i, dea_v, color=YEL, lw=LW, zorder=4)
ax2.set_ylim(-0.0547, 0.0573)
ax2.set_yticks(macd_ticks, ["0.0500", "0.0000", "-0.0500"])
nudge = ScaledTranslation(0, 2.5/72*0.72*100/72, fig.dpi_scale_trans)
for lab in ax2.get_yticklabels():
    lab.set_transform(lab.get_transform() + nudge)

# ---------- interface overlay, in pixels ----------
ov = fig.add_axes([0, 0, 1, 1], zorder=10)
ov.set_xlim(0, W); ov.set_ylim(H, 0); ov.axis('off'); ov.patch.set_alpha(0)

def R(x0, y0, x1, y1, fc, ec='none', lw=0, alpha=1, z=1):
    ov.add_patch(Rectangle((x0, y0), x1-x0, y1-y0, facecolor=fc, edgecolor=ec, linewidth=lw, alpha=alpha, zorder=z))
def L(xs, ys, col=TXT, lw=1.4, ls='-', z=2):
    ov.plot(xs, ys, color=col, lw=lw, ls=ls, zorder=z, solid_capstyle='butt')
def T(x, y, s, col=TXT, size=16, ha='left', z=5):
    ov.text(x, y, s, color=col, fontsize=size, va='center', ha=ha, zorder=z)

# bars and strips
R(10, 0, W, 127, BG)
R(0, 0, W, 3, DARK)
R(10, 3, 134, 5.5, '#2f7fe0')
R(0, 63, W, 66, DARK)
R(0, 124, W, 127, DARK)
R(10, 1219, 1608, 1245, BG)
R(0, 0, 10, H, DARK)
R(0, 760, 10, 835, '#3a4263')
ov.add_patch(Polygon([[8, 791], [8, 803], [1, 797]], facecolor='#8a90aa', zorder=2))

# tabs
for k, (a, b) in enumerate(zip(tab_titles, tab_subs)):
    x = 21 + 126*k
    T(x, 26, a, '#c4c9de' if k == 0 else '#41465c', 16.2)
    T(x, 48, b, '#5f6580' if k == 0 else '#343950', 14.5)
    if k < 12:
        L([134+126*k]*2, [19, 50], DARK, 1.4)
R(1660, 19, 1688, 47, '#1f2540', '#343c60', 1.4)
L([1667, 1681], [33, 33], '#7d84a4', 1.4); L([1674, 1674], [26, 40], '#7d84a4', 1.4)

# toolbar
L([347, 347], [66, 124], DARK, 1.4)
R(38, 84, 61, 106, 'none', '#aab0c8', 1.4)
L([42, 47, 51, 57], [99, 91, 96, 89], '#aab0c8', 1.3)
T(70, 97, "指标", TXT, 17.6)
ov.add_patch(Polygon([[152, 83], [164, 90], [164, 102], [152, 108], [140, 102], [140, 90]], facecolor='none', edgecolor='#aab0c8', lw=1.4))
ov.add_patch(Circle((152, 95.5), 4, facecolor='none', edgecolor='#aab0c8', lw=1.4))
T(174, 97, "设置", TXT, 17.6)
L([243, 254, 263, 252, 243, 243], [104, 86, 91, 106, 106, 104], '#aab0c8', 1.3)
L([256, 266], [106, 106], '#aab0c8', 1.3)
T(274, 97, "画线", TXT, 17.6)
T(371, 97, "周期", AXT, 17.6)
ov.add_patch(Polygon([[432, 91], [447, 91], [439.5, 99]], facecolor='#80869f'))
for s, x in periods:
    T(x, 97, s, '#3d8eea' if s == "15分钟" else AXT, 17.6 if s != "1s" else 17)
for sx, sy in [(1495, 84), (1519, 84), (1495, 106), (1519, 106)]:
    dx = 7 if sx < 1510 else -7
    dy = 7 if sy < 95 else -7
    L([sx+dx, sx, sx], [sy, sy, sy+dy], '#aab0c8', 1.3)
L([1546, 1563, 1563, 1551], [85, 85, 107, 107], '#aab0c8', 1.4)
L([1538, 1549], [101, 101], '#aab0c8', 1.4); L([1543.5, 1543.5], [96, 107], '#aab0c8', 1.4)
R(1586, 77, 1705, 117, '#222a45', '#2f3a60', 1.5)
T(1598, 99, "单窗口", TXT, 17.6)
ov.add_patch(Polygon([[1679, 93], [1691, 93], [1685, 102]], facecolor='#7d84a4'))

# header rows
y1, y2, y3 = 147, 183, 219
T(17, y1, "时间:2020-04-08 06:30")
T(248, y1, "开:2.6140"); T(353, y1, "高:2.6400"); T(460, y1, "低:2.6124"); T(566, y1, "收:2.6355")
T(672, y1, "涨幅:"); T(721, y1, "0.84%", UP); T(790, y1, "振幅:1.06%")
T(17, y2, "BOLL(20,2)"); T(218, y2, "BOLL:2.6612"); T(355, y2, "UB:2.7612", YEL); T(467, y2, "LB:2.5612", '#e040a8')
T(17, y3, "MA"); T(142, y3, "MA(5):2.6288"); T(288, y3, "MA(10):2.6181", YEL)
T(446, y3, "MA(30):2.6860", MAG); T(603, y3, "MA(60):2.7209", BLU)
T(760, y3, "MA(120):2.7209", LGR); T(930, y3, "MA(240):2.5655", SAL)
T(17, 1050, "MACD(12,26,9)"); T(251, 1050, "DIF:-0.0286"); T(374, 1050, "DEA:-0.0282", YEL); T(505, 1050, "MACD:-0.0007", '#e05a55')

def icons(x0, x1, y0, y1):
    R(x0, y0, x0+27, y1, '#242c44', z=3)
    R(x1, y0, x1+27, y1, '#242c44', z=3)
    cx, cy = x0+13.5, (y0+y1)/2
    ov.add_patch(Circle((cx, cy), 6, facecolor='none', edgecolor='#39415c', lw=3.5, zorder=4))
    cx = x1+13.5
    L([cx-7, cx+7], [cy-8, cy+8], '#39415c', 2.5, z=4)
    L([cx-7, cx+7], [cy+8, cy-8], '#39415c', 2.5, z=4)
icons(143, 181, 168, 197)
icons(67, 105, 205, 233)
icons(177, 214, 1037, 1064)

# borders
L([10, W], [1032, 1032], BORDER, 1.8)
L([10, 1608], [1218, 1218], BORDER, 1.8)
L([1608, 1608], [127, H], BORDER, 1.5)

# extreme labels
T(339, 276, "←", '#c0c5da', 16)
T(362, 274, "2.7943", '#c0c5da', 16)
T(160, 906, "←", '#c0c5da', 16)
T(182, 904, "2.5513", '#c0c5da', 16)

# crosshair
L([186.5, 186.5], [127, 1218], '#8a90a4', 1.4, ls=(0, (4, 4)), z=3)
L([10, 1590], [1164, 1164], '#8a90a4', 1.4, ls=(0, (4, 4)), z=3)

# current price and crosshair value
R(1606, 598, W, 636, DOWN, alpha=0.9, z=4)
L([1606, 1617], [617, 617], '#f4f0f0', 1.5, z=5)
T(1632, 617, "2.6595", '#eeeaf0', 16)
R(1568, 1143, W, 1183, '#33384a', z=4)
T(1586, 1163, "+", '#e4e6f0', 22, ha='center')
T(1630, 1163, "-0.0117", '#ccd0e0', 16)

# indicator row
for s, x in indicators:
    col = '#3d86e0' if s == "MACD" else ('#5f6683' if s == "VOLUME" else AXT)
    T(x, 1236, s, col, 15.8)

fig.savefig("out.png", dpi=100, facecolor=BG)
